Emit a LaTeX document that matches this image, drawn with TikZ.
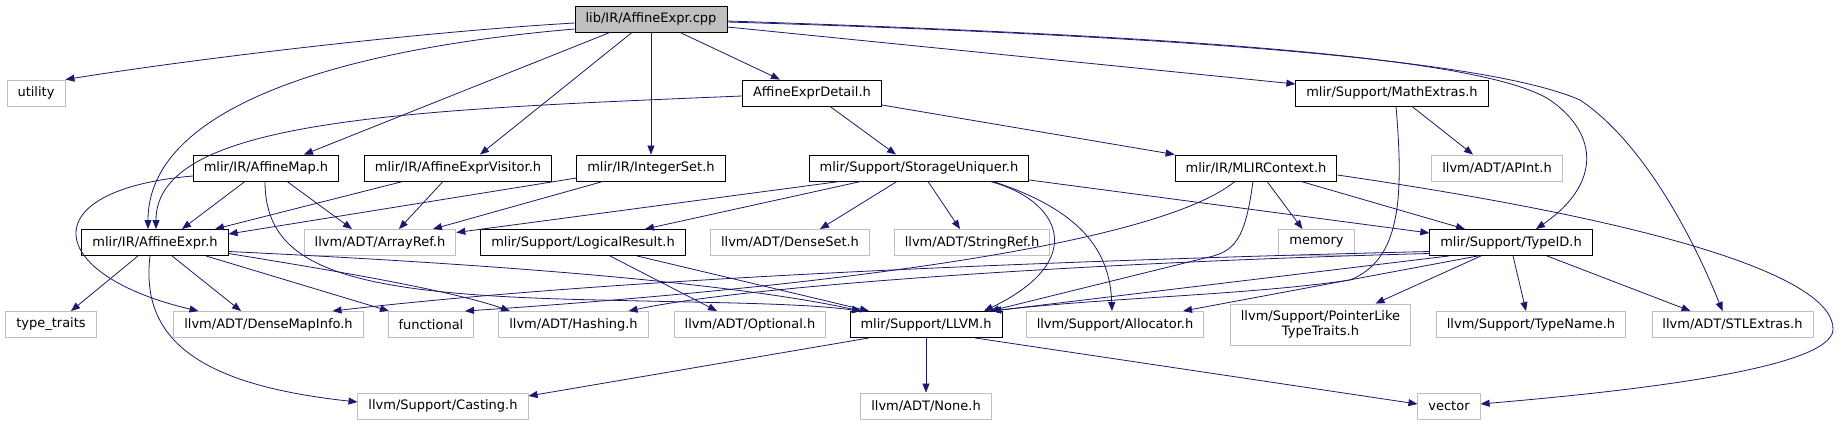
\documentclass[tikz,border=0pt]{standalone}
\usepackage{fontspec}
\setmainfont{DejaVu Sans}
\usetikzlibrary{arrows.meta,calc}
\definecolor{EdgeBlue}{HTML}{191970}
\definecolor{BoxGray}{HTML}{BFBFBF}
\tikzset{
  fbox/.style={rectangle,draw=black,fill=white,line width=0.9pt,
               minimum height=26pt,inner xsep=10.5pt,inner ysep=2pt,
               font=\fontsize{13}{15}\selectfont},
  xbox/.style={fbox,draw=BoxGray},
  rootbox/.style={fbox,fill=BoxGray},
  arr/.style={-{Triangle[length=9pt,width=7pt]},line width=0.8pt,color=EdgeBlue},
}

\begin{document}
\begin{tikzpicture}[x=1pt,y=-1pt]

  \fill[white] (0,0) rectangle (1840,425);

  % top rows
  \node[rootbox] (cpp)      at (651,19)    {lib/IR/AffineExpr.cpp};
  \node[xbox]    (utility)  at (36,93)     {utility};
  \node[fbox]    (detail)   at (812,93)    {AffineExprDetail.h};
  \node[fbox]    (math)     at (1392,93)   {mlir/Support/MathExtras.h};
  \node[fbox]    (amap)     at (266,168)   {mlir/IR/AffineMap.h};
  \node[fbox]    (visitor)  at (458,168)   {mlir/IR/AffineExprVisitor.h};
  \node[fbox]    (iset)     at (651,168)   {mlir/IR/IntegerSet.h};
  \node[fbox]    (storage)  at (919,168)   {mlir/Support/StorageUniquer.h};
  \node[fbox]    (ctx)      at (1256,168)  {mlir/IR/MLIRContext.h};
  \node[xbox]    (apint)    at (1497,168)  {llvm/ADT/APInt.h};

  % middle row
  \node[fbox]    (aexpr)    at (155,242.5)  {mlir/IR/AffineExpr.h};
  \node[xbox]    (arrayref) at (380,242.5)  {llvm/ADT/ArrayRef.h};
  \node[fbox]    (logical)  at (583,242.5)  {mlir/Support/LogicalResult.h};
  \node[xbox]    (denseset) at (790,242.5)  {llvm/ADT/DenseSet.h};
  \node[xbox]    (stringref) at (972,242.5) {llvm/ADT/StringRef.h};
  \node[xbox]    (memory)   at (1316.5,242.5) {memory};
  \node[fbox]    (typeid)   at (1511,242.5) {mlir/Support/TypeID.h};

  % bottom rows
  \node[xbox]    (typetraits) at (51,324.5)   {type\_traits};
  \node[xbox]    (densemap)   at (268.5,324.5) {llvm/ADT/DenseMapInfo.h};
  \node[xbox]    (functional) at (431,324.5)  {functional};
  \node[xbox]    (hashing)    at (573.5,324.5) {llvm/ADT/Hashing.h};
  \node[xbox]    (optional)   at (750,324.5)  {llvm/ADT/Optional.h};
  \node[fbox]    (llvm)       at (926,324.5)  {mlir/Support/LLVM.h};
  \node[xbox]    (allocator)  at (1115,324.5) {llvm/Support/Allocator.h};
  \node[xbox,minimum height=41pt,align=center] (pointerlike) at (1320.5,324.5)
    {llvm/Support/PointerLike\\TypeTraits.h};
  \node[xbox]    (typename)   at (1531,324.5) {llvm/Support/TypeName.h};
  \node[xbox]    (stlextras)  at (1732.5,324.5) {llvm/ADT/STLExtras.h};
  \node[xbox]    (casting)    at (443,406)    {llvm/Support/Casting.h};
  \node[xbox]    (none)       at (926,406)    {llvm/ADT/None.h};
  \node[xbox]    (vector)     at (1449,406)   {vector};

  % lib/IR/AffineExpr.cpp
  \draw[arr] ([yshift=-4pt]cpp.west) .. controls (420,32) and (200,58) .. (utility.north east);
  \draw[arr] ([yshift=-10pt]cpp.west) .. controls (330,50) and (148,110) .. ([xshift=-7pt]aexpr.north);
  \draw[arr] ([xshift=-41pt]cpp.south) -- ([xshift=38pt]amap.north);
  \draw[arr] ([xshift=-19pt]cpp.south) -- ([xshift=22pt]visitor.north);
  \draw[arr] (cpp) -- (iset);
  \draw[arr] ([xshift=29pt]cpp.south) -- ([xshift=-32pt]detail.north);
  \draw[arr] ([yshift=-8pt]cpp.east) -- ([yshift=9pt]math.west);
  \draw[arr] ([yshift=-2pt]cpp.east) .. controls (1150,35) and (1480,55) .. (1550,100)
    .. controls (1600,135) and (1600,185) .. ([xshift=25pt]typeid.north);
  \draw[arr] ([yshift=-3pt]cpp.east) .. controls (1250,38) and (1500,65) .. (1580,100)
    .. controls (1640,140) and (1690,230) .. ([xshift=-10pt]stlextras.north);

  % AffineExprDetail.h and MathExtras.h
  \draw[arr] ([yshift=-3pt]detail.west) .. controls (400,110) and (156,120) .. ([xshift=1pt]aexpr.north);
  \draw[arr] ([xshift=18pt]detail.south) -- ([xshift=-23pt]storage.north);
  \draw[arr] ([yshift=-12pt]detail.east) -- (ctx.north west);
  \draw[arr] ([xshift=20pt]math.south) -- ([xshift=-24pt]apint.north);
  \draw[arr] ([xshift=4pt]math.south) .. controls (1404,200) and (1400,260) .. (1350,280)
    .. controls (1250,295) and (1100,298) .. ([xshift=66pt]llvm.north);

  % AffineMap.h, AffineExprVisitor.h, IntegerSet.h
  \draw[arr] ([yshift=-8pt]amap.west) .. controls (30,190) and (45,275) .. ([xshift=-70pt]densemap.north);
  \draw[arr] ([xshift=-21pt]amap.south) -- ([xshift=27pt]aexpr.north);
  \draw[arr] ([xshift=21pt]amap.south) -- ([xshift=-28pt]arrayref.north);
  \draw[arr] ([xshift=-1pt]amap.south) .. controls (265,270) and (350,295) .. (600,300)
    .. controls (720,303) and (800,303) .. ([xshift=-65pt]llvm.north);
  \draw[arr] ([xshift=-55pt]visitor.south) -- ([xshift=60pt]aexpr.north);
  \draw[arr] ([xshift=-15pt]visitor.south) -- ([xshift=19pt]arrayref.north);
  \draw[arr] ([yshift=-10pt]iset.west) -- ([yshift=8.5pt]aexpr.east);
  \draw[arr] ([xshift=-48pt]iset.south) -- ([xshift=53pt]arrayref.north);

  % StorageUniquer.h
  \draw[arr] ([xshift=-79pt]storage.south) -- ([yshift=10pt]arrayref.east);
  \draw[arr] ([xshift=-58pt]storage.south) -- ([xshift=62pt]logical.north);
  \draw[arr] ([xshift=-22pt]storage.south) -- ([xshift=30pt]denseset.north);
  \draw[arr] ([xshift=9pt]storage.south) -- ([xshift=-12pt]stringref.north);
  \draw[arr] ([xshift=71pt]storage.south) .. controls (1060,200) and (1090,260) .. ([xshift=58pt]llvm.north);
  \draw[arr] ([xshift=74pt]storage.south) .. controls (1080,210) and (1110,250) .. ([xshift=-3pt]allocator.north);
  \draw[arr] ([yshift=-12pt]storage.east) -- ([yshift=9.5pt]typeid.west);

  % MLIRContext.h
  \draw[arr] ([xshift=11pt]ctx.south) -- ([xshift=-14pt]memory.north);
  \draw[arr] ([xshift=45pt]ctx.south) -- ([xshift=-46pt]typeid.north);
  \draw[arr] ([yshift=-7pt]ctx.east) .. controls (1680,225) and (1835,280) .. (1833,330)
    .. controls (1830,370) and (1620,392) .. ([yshift=2pt]vector.east);
  \draw[arr] ([xshift=-21pt]ctx.south) .. controls (1150,250) and (780,290) .. ([xshift=34pt]functional.north);
  \draw[arr] ([xshift=-3pt]ctx.south) .. controls (1245,240) and (1235,252) .. (1205,258)
    -- ([xshift=64pt]llvm.north);

  % AffineExpr.h and LogicalResult.h
  \draw[arr] ([xshift=-17pt]aexpr.south) -- ([xshift=20pt]typetraits.north);
  \draw[arr] ([xshift=17pt]aexpr.south) -- ([xshift=-27.5pt]densemap.north);
  \draw[arr] ([xshift=51pt]aexpr.south) -- ([xshift=-42pt]functional.north);
  \draw[arr] ([yshift=-11pt]aexpr.east) .. controls (330,270) and (450,290) .. ([xshift=-63.5pt]hashing.north);
  \draw[arr] ([yshift=-9pt]aexpr.east) .. controls (450,262) and (720,280) .. ([xshift=-65pt]llvm.north);
  \draw[arr] ([xshift=-5pt]aexpr.south) .. controls (140,340) and (200,385) .. ([yshift=4pt]casting.west);
  \draw[arr] ([xshift=27pt]logical.south) -- ([xshift=-33pt]optional.north);
  \draw[arr] ([xshift=54pt]logical.south) -- ([xshift=-57pt]llvm.north);

  % TypeID.h
  \draw[arr] ([yshift=-9pt]typeid.west) .. controls (1000,262) and (600,280) .. ([xshift=64pt]densemap.north);
  \draw[arr] ([yshift=-11pt]typeid.west) .. controls (1100,262) and (750,285) .. ([xshift=55pt]hashing.north);
  \draw[arr] ([xshift=-62pt]typeid.south) -- ([xshift=66pt]llvm.north);
  \draw[arr] ([xshift=-33pt]typeid.south) -- ([xshift=68pt]allocator.north);
  \draw[arr] ([xshift=-30pt]typeid.south) -- ([xshift=55pt]pointerlike.north);
  \draw[arr] ([xshift=2pt]typeid.south) -- ([xshift=-5pt]typename.north);
  \draw[arr] ([xshift=36pt]typeid.south) -- ([xshift=-42pt]stlextras.north);

  % LLVM.h
  \draw[arr] ([xshift=-57pt]llvm.south) -- ([yshift=10pt]casting.east);
  \draw[arr] (llvm) -- (none);
  \draw[arr] ([xshift=49pt]llvm.south) -- ([yshift=2pt]vector.west);

\end{tikzpicture}
\end{document}
